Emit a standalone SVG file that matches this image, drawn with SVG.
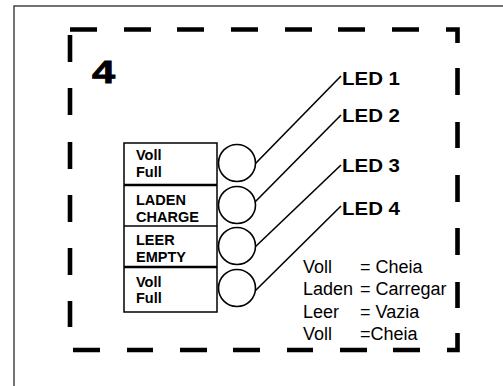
<svg xmlns="http://www.w3.org/2000/svg" width="503" height="386" viewBox="0 0 503 386">
<style>
.frame{fill:none;stroke:#444;stroke-width:1.5}
.dash{fill:none;stroke:#000;stroke-width:4.6;stroke-linecap:butt;stroke-linejoin:miter}
.box{fill:#fff;stroke:#000;stroke-width:1.5}
.div{stroke:#000;stroke-width:2.5}
.led{fill:#fff;stroke:#000;stroke-width:1.6}
.conn{stroke:#000;stroke-width:1.6;fill:none}
.bt{font-family:"Liberation Sans",Arial,sans-serif;font-weight:bold;font-size:14.5px;fill:#000}
.lt{font-family:"Liberation Sans",Arial,sans-serif;font-weight:bold;font-size:17.5px;fill:#000}
.leg{font-family:"Liberation Sans",Arial,sans-serif;font-size:18px;fill:#000}
.num{font-family:"Liberation Sans",Arial,sans-serif;font-weight:bold;font-size:32px;fill:#000;stroke:#000;stroke-width:0.8}
</style>
<rect width="503" height="386" fill="#fff"/>
<path class="frame" d="M14 386 V6 H503"/>
<g id="dashed-border">
<path class="dash" d="M70 29.5H97M124 29.5H151M177 29.5H204M231 29.5H258M285 29.5H312M338 29.5H365M392 29.5H419M446 29.5H457.5V43"/>
<path class="dash" d="M457.5 68V95M457.5 122V148M457.5 175V202M457.5 228V255M457.5 282V308M457.5 333V350H447"/>
<path class="dash" d="M73 350H100M127 350H153M180 350H207M233 350H260M287 350H313M340 350H367M393 350H420"/>
<path class="dash" d="M70 35V62M70 88V115M70 142V169M70 195V222M70 248V275M70 301V327"/>
</g>
<g id="title"><text class="num" transform="translate(92,83) scale(1.3,1)">4</text></g>
<g id="status-boxes">
<rect class="box" x="124" y="143" width="93" height="169"/>
<line class="div" x1="124" y1="185" x2="217" y2="185"/>
<line class="box" x1="124" y1="226" x2="217" y2="226"/>
<line class="div" x1="124" y1="267" x2="217" y2="267"/>
<g id="box1"><text class="bt" x="136" y="160">Voll</text><text class="bt" x="136" y="177">Full</text></g>
<g id="box2"><text class="bt" x="136" y="205">LADEN</text><text class="bt" x="136" y="222">CHARGE</text></g>
<g id="box3"><text class="bt" x="136" y="245">LEER</text><text class="bt" x="136" y="262">EMPTY</text></g>
<g id="box4"><text class="bt" x="136" y="287">Voll</text><text class="bt" x="136" y="303">Full</text></g>
</g>
<g id="connectors">
<line class="conn" x1="254" y1="165" x2="341" y2="76"/>
<line class="conn" x1="254" y1="203" x2="341" y2="115"/>
<line class="conn" x1="254" y1="248" x2="341" y2="165"/>
<line class="conn" x1="254" y1="292" x2="341" y2="206"/>
</g>
<g id="led1"><circle class="led" cx="237" cy="163" r="18.5"/><text class="lt" x="342" y="85" textLength="58" lengthAdjust="spacingAndGlyphs">LED 1</text></g>
<g id="led2"><circle class="led" cx="237" cy="205" r="18.5"/><text class="lt" x="342" y="122" textLength="58" lengthAdjust="spacingAndGlyphs">LED 2</text></g>
<g id="led3"><circle class="led" cx="237" cy="246" r="18.5"/><text class="lt" x="342" y="172" textLength="58" lengthAdjust="spacingAndGlyphs">LED 3</text></g>
<g id="led4"><circle class="led" cx="237" cy="288" r="18.5"/><text class="lt" x="342" y="215" textLength="58" lengthAdjust="spacingAndGlyphs">LED 4</text></g>
<g id="legend">
<text class="leg" x="303" y="273">Voll</text><text class="leg" x="360" y="273">= Cheia</text>
<text class="leg" x="303" y="295">Laden</text><text class="leg" x="360" y="295">= Carregar</text>
<text class="leg" x="303" y="318">Leer</text><text class="leg" x="360" y="318">= Vazia</text>
<text class="leg" x="303" y="340">Voll</text><text class="leg" x="360" y="340">=Cheia</text>
</g>
</svg>
